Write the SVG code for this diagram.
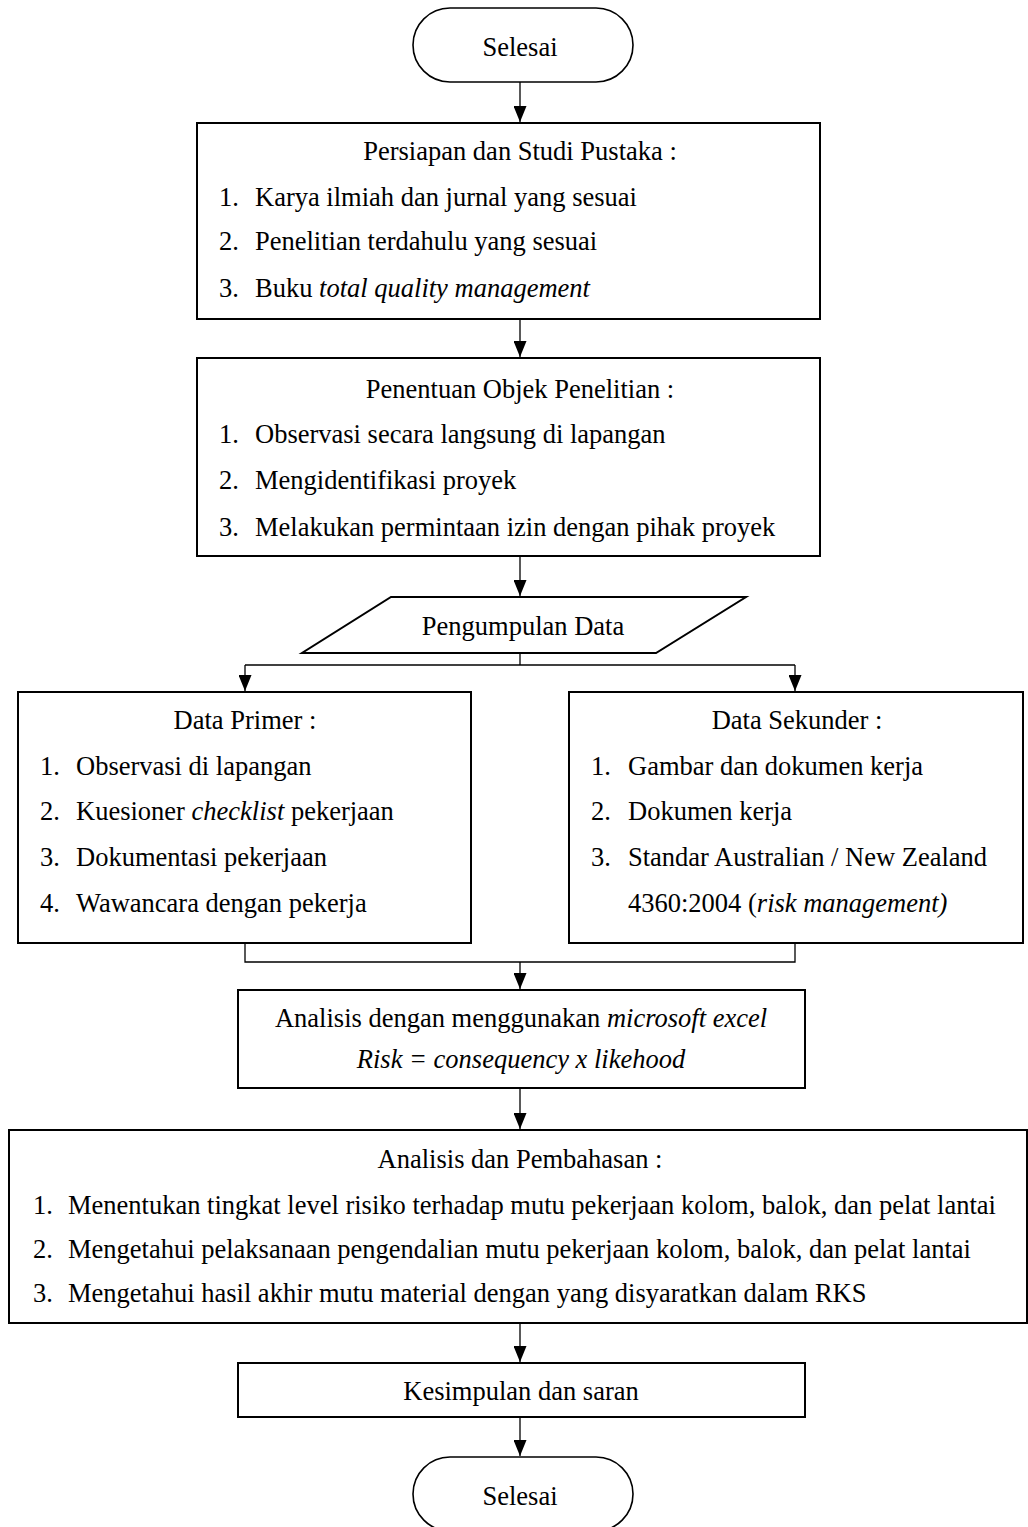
<svg xmlns="http://www.w3.org/2000/svg" width="1028" height="1527" viewBox="0 0 1028 1527">
<style>
text{font-family:"Liberation Serif","Times New Roman",serif;font-size:26.5px;fill:#000}
.c{text-anchor:middle}
.i{font-style:italic}
.box{fill:#fff;stroke:#000;stroke-width:2}
.term{fill:#fff;stroke:#000;stroke-width:1.6}
.ln{fill:none;stroke:#000;stroke-width:1.3}
</style>
<defs>
<marker id="ah" viewBox="0 0 16 13" markerWidth="16" markerHeight="13" refX="16" refY="6.5" orient="auto" markerUnits="userSpaceOnUse">
<path d="M0,0 L16,6.5 L0,13 z" fill="#000"/>
</marker>
</defs>
<rect width="1028" height="1527" fill="#fff"/>
<g id="connectors">
<line class="ln" x1="520" y1="82" x2="520" y2="122" marker-end="url(#ah)"/>
<line class="ln" x1="520" y1="319" x2="520" y2="357" marker-end="url(#ah)"/>
<line class="ln" x1="520" y1="556" x2="520" y2="596" marker-end="url(#ah)"/>
<polyline class="ln" points="520,653 520,665"/>
<line class="ln" x1="245" y1="665" x2="795" y2="665"/>
<line class="ln" x1="245" y1="665" x2="245" y2="691" marker-end="url(#ah)"/>
<line class="ln" x1="795" y1="665" x2="795" y2="691" marker-end="url(#ah)"/>
<polyline class="ln" points="245,943 245,962 795,962 795,943"/>
<line class="ln" x1="520" y1="962" x2="520" y2="989" marker-end="url(#ah)"/>
<line class="ln" x1="520" y1="1088" x2="520" y2="1129" marker-end="url(#ah)"/>
<line class="ln" x1="520" y1="1323" x2="520" y2="1362" marker-end="url(#ah)"/>
<line class="ln" x1="520" y1="1417" x2="520" y2="1456" marker-end="url(#ah)"/>
</g>
<g id="start">
<rect class="term" x="413" y="8" width="220" height="74" rx="37" ry="37"/>
<text class="c" x="520" y="56">Selesai</text>
</g>
<g id="persiapan">
<rect class="box" x="197" y="123" width="623" height="196"/>
<text class="c" x="520" y="160">Persiapan dan Studi Pustaka :</text>
<text x="219" y="206">1.</text><text x="255" y="206">Karya ilmiah dan jurnal yang sesuai</text>
<text x="219" y="250">2.</text><text x="255" y="250">Penelitian terdahulu yang sesuai</text>
<text x="219" y="297">3.</text><text x="255" y="297">Buku <tspan class="i">total quality management</tspan></text>
</g>
<g id="penentuan">
<rect class="box" x="197" y="358" width="623" height="198"/>
<text class="c" x="520" y="398">Penentuan Objek Penelitian :</text>
<text x="219" y="443">1.</text><text x="255" y="443">Observasi secara langsung di lapangan</text>
<text x="219" y="489">2.</text><text x="255" y="489">Mengidentifikasi proyek</text>
<text x="219" y="536">3.</text><text x="255" y="536">Melakukan permintaan izin dengan pihak proyek</text>
</g>
<g id="pengumpulan">
<polygon class="box" points="391,597 746,597 656,653 302,653"/>
<text class="c" x="523" y="635">Pengumpulan Data</text>
</g>
<g id="primer">
<rect class="box" x="18" y="692" width="453" height="251"/>
<text class="c" x="245" y="729">Data Primer :</text>
<text x="40" y="775">1.</text><text x="76" y="775">Observasi di lapangan</text>
<text x="40" y="820">2.</text><text x="76" y="820">Kuesioner <tspan class="i">checklist</tspan> pekerjaan</text>
<text x="40" y="866">3.</text><text x="76" y="866">Dokumentasi pekerjaan</text>
<text x="40" y="912">4.</text><text x="76" y="912">Wawancara dengan pekerja</text>
</g>
<g id="sekunder">
<rect class="box" x="569" y="692" width="454" height="251"/>
<text class="c" x="797" y="729">Data Sekunder :</text>
<text x="591" y="775">1.</text><text x="628" y="775">Gambar dan dokumen kerja</text>
<text x="591" y="820">2.</text><text x="628" y="820">Dokumen kerja</text>
<text x="591" y="866">3.</text><text x="628" y="866">Standar Australian / New Zealand</text>
<text x="628" y="912">4360:2004 (<tspan class="i">risk management)</tspan></text>
</g>
<g id="analisis-excel">
<rect class="box" x="238" y="990" width="567" height="98"/>
<text class="c" x="521" y="1027">Analisis dengan menggunakan <tspan class="i">microsoft excel</tspan></text>
<text class="c i" x="521" y="1068">Risk = consequency x likehood</text>
</g>
<g id="pembahasan">
<rect class="box" x="9" y="1130" width="1018" height="193"/>
<text class="c" x="520" y="1168">Analisis dan Pembahasan :</text>
<text x="33" y="1214">1.</text><text x="68" y="1214">Menentukan tingkat level risiko terhadap mutu pekerjaan kolom, balok, dan pelat lantai</text>
<text x="33" y="1258">2.</text><text x="68" y="1258">Mengetahui pelaksanaan pengendalian mutu pekerjaan kolom, balok, dan pelat lantai</text>
<text x="33" y="1302">3.</text><text x="68" y="1302">Mengetahui hasil akhir mutu material dengan yang disyaratkan dalam RKS</text>
</g>
<g id="kesimpulan">
<rect class="box" x="238" y="1363" width="567" height="54"/>
<text class="c" x="521" y="1400">Kesimpulan dan saran</text>
</g>
<g id="end">
<rect class="term" x="413" y="1457" width="220" height="74" rx="37" ry="37"/>
<text class="c" x="520" y="1505">Selesai</text>
</g>
</svg>
